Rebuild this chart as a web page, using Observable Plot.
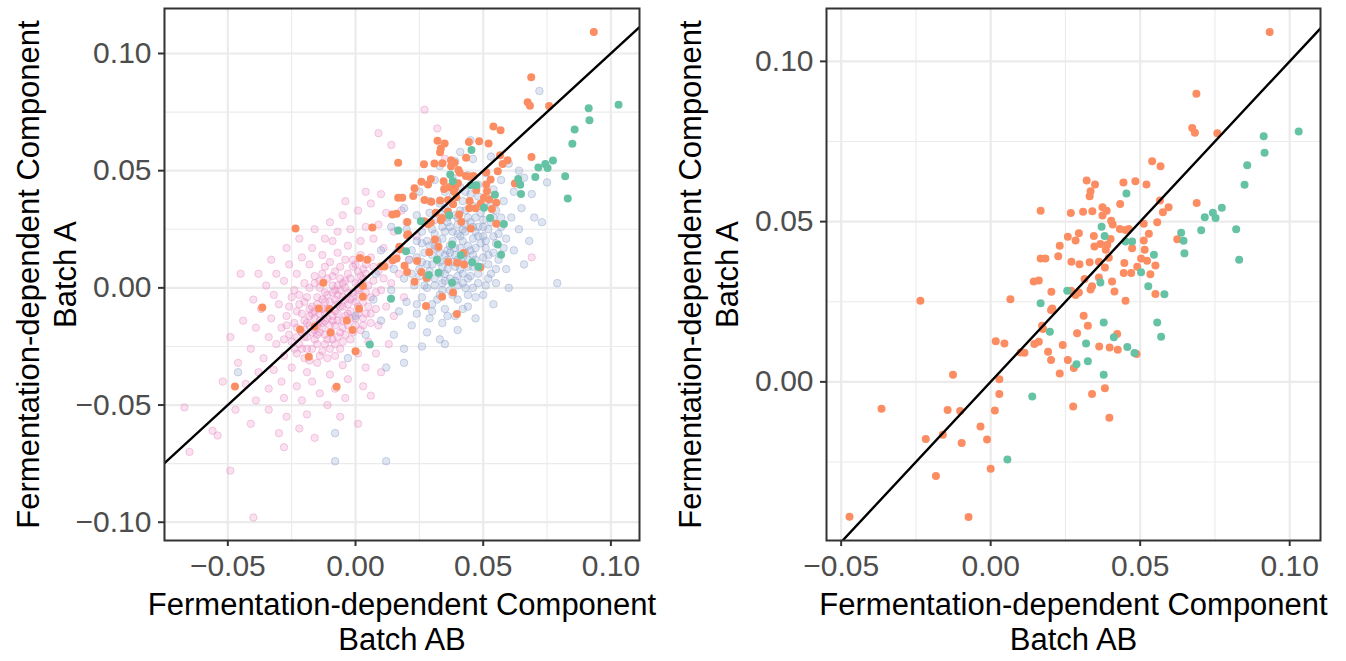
<!DOCTYPE html>
<html><head><meta charset="utf-8">
<script src="https://cdn.jsdelivr.net/npm/d3@7"></script>
<script src="https://cdn.jsdelivr.net/npm/@observablehq/plot@0.6"></script>
<style>
body{margin:0;background:#fff;}
#wrap{position:relative;width:1346px;height:661px;overflow:hidden;}
#left{position:absolute;left:0;top:0;}
#right{position:absolute;left:660px;top:0;}
svg g[aria-label$="axis tick"] path{stroke:#333333;stroke-width:2px;}
svg g[aria-label$="axis tick label"]{fill:#4D4D4D;}
</style></head><body><div id="wrap"><div id="left"></div><div id="right"></div></div>
<script>
// Highlighted samples (orange) — [Batch AB, Batch A]
const orangePts = [
[0.0540,0.0688],[0.0568,0.0673],[0.0321,0.0628],[0.0349,0.0616],[0.0444,0.0622],[0.0484,0.0626],[0.0521,0.0616],[0.0334,0.0595],[0.0331,0.0579],[0.0167,0.0534],[0.0268,0.0527],[0.0309,0.0531],[0.0340,0.0532],[0.0374,0.0545],[0.0388,0.0534],[0.0433,0.0555],[0.0566,0.0566],[0.0595,0.0545],[0.0576,0.0529],[0.0374,0.0519],[0.0403,0.0503],[0.0408,0.0491],[0.0557,0.0498],[0.0512,0.0493],[0.0432,0.0477],[0.0451,0.0474],[0.0462,0.0477],[0.0529,0.0462],[0.0295,0.0464],[0.0258,0.0453],[0.0284,0.0441],[0.0345,0.0455],[0.0401,0.0446],[0.0367,0.0430],[0.0390,0.0428],[0.0512,0.0441],[0.0624,0.0445],[0.0231,0.0425],[0.0347,0.0422],[0.0385,0.0412],[0.0473,0.0417],[0.0515,0.0412],
[0.0167,0.0385],[0.0183,0.0385],[0.0226,0.0392],[0.0270,0.0375],[0.0297,0.0367],[0.0331,0.0373],[0.0362,0.0375],[0.0395,0.0387],[0.0447,0.0371],[0.0503,0.0385],[0.0523,0.0378],[0.0551,0.0363],[0.0382,0.0357],[0.0445,0.0340],[0.0470,0.0340],[0.0490,0.0359],[0.0534,0.0336],[0.0144,0.0313],[0.0161,0.0316],[0.0314,0.0321],[0.0362,0.0326],[0.0406,0.0313],[0.0339,0.0298],[0.0334,0.0288],[0.0203,0.0281],[0.0269,0.0284],[0.0284,0.0271],[0.0295,0.0279],[0.0414,0.0282],[0.0551,0.0274],[0.0066,0.0258],[0.0451,0.0253],[0.0206,0.0229],[0.0202,0.0224],[0.0311,0.0206],[0.0325,0.0175],[0.0172,0.0175],[0.0175,0.0165],[0.0289,0.0152],[0.0423,0.0149],[0.0161,0.0125],[0.0146,0.0118],[0.0241,0.0115],[0.0363,0.0110],[0.0398,0.0107],[0.0425,0.0100],[0.0488,0.0087],[0.0192,0.0094],[0.0100,0.0092],[0.0113,0.0091],
[0.0202,0.0068],[0.0258,0.0068],[0.0278,0.0043],[0.0231,0.0026],[0.0029,0.0008],[0.0029,-0.0038],[0.0339,-0.0038],[0.0382,-0.0020],[0.0276,-0.0077],[0.0014,-0.0089],[0.0397,-0.0112],[-0.0034,-0.0139],[-0.0012,-0.0180],
[-0.0235,0.0253],[-0.0365,-0.0084],[-0.0126,0.0022],[-0.0144,-0.0088],[-0.0102,-0.0091],[-0.0217,-0.0178],[-0.0160,-0.0165],[-0.0097,-0.0191],[0.0000,-0.0271],[-0.0183,-0.0294],[-0.0472,-0.0421],[-0.0074,-0.0422],[0.0017,0.0127],[0.0046,0.0120],
[0.0933,0.1092],[0.0688,0.0899],[0.0674,0.0792],[0.0683,0.0777],[0.0758,0.0776],[0.0689,0.0558]
];
// Highlighted samples (green)
const greenPts = [
[0.0454,0.0588],[0.0371,0.0484],[0.0381,0.0455],[0.0451,0.0438],[0.0473,0.0438],[0.0546,0.0397],
[0.0503,0.0342],[0.0367,0.0310],[0.0527,0.0298],[0.0256,0.0284],[0.0581,0.0273],[0.0167,0.0245],[0.0378,0.0185],[0.0557,0.0185],[0.0198,0.0156],[0.0412,0.0139],[0.0570,0.0141],[0.0319,0.0120],[0.0457,0.0109],[0.0481,0.0090],
[0.0287,0.0055],[0.0325,0.0064],[0.0378,0.0022],[0.0139,-0.0046],[0.0056,-0.0242],
[0.1030,0.0781],[0.0913,0.0766],[0.0916,0.0715],[0.0858,0.0676],[0.0849,0.0615],[0.0773,0.0543],[0.0743,0.0528],[0.0752,0.0511],[0.0716,0.0514],[0.0704,0.0473],[0.0821,0.0476],[0.0831,0.0381],[0.0637,0.0465],[0.0645,0.0440],[0.0648,0.0401]
];
// Background samples, pink group (left panel only)
const pinkCloud = [
[-0.020,-0.018],[-0.018,-0.012],[-0.015,-0.016],[-0.013,-0.009],[-0.011,-0.013],[-0.010,-0.006],[-0.008,-0.010],[-0.007,-0.003],[-0.005,-0.008],[-0.004,0.000],[-0.002,-0.005],[0.000,0.002],[0.002,-0.003],[0.003,0.004],[0.005,0.001],[-0.022,-0.024],[-0.019,-0.021],[-0.016,-0.022],[-0.014,-0.019],[-0.012,-0.020],[-0.017,-0.008],[-0.015,-0.004],[-0.012,-0.002],[-0.009,0.001],[-0.006,0.004],[-0.003,0.006],[-0.001,0.009],[0.001,0.007],[-0.010,-0.016],[-0.007,-0.014],[-0.004,-0.012],[-0.002,-0.010],[0.001,-0.008],[0.003,-0.006],[-0.024,-0.015],[-0.021,-0.011],[-0.026,-0.020],[-0.023,-0.028],[-0.020,-0.030],[-0.017,-0.026],[-0.013,-0.027],[-0.009,-0.022],[-0.006,-0.019],[-0.003,-0.016],[0.000,-0.013],[0.004,-0.011],[0.006,-0.004],[0.007,0.003],[0.004,0.010],[-0.008,0.007],[-0.011,0.004],[-0.014,0.000],[-0.019,-0.004],[-0.022,-0.007],[-0.027,-0.012],[-0.025,-0.004],[-0.029,-0.017],[-0.031,-0.024],[-0.028,-0.029],[-0.025,-0.034],[-0.019,-0.036],[-0.015,-0.032],[-0.011,-0.030],[-0.006,-0.026],[-0.002,-0.022],[0.002,-0.018],[0.008,-0.009],[0.010,-0.001],[0.009,0.007],[0.006,0.013],[0.002,0.014],[-0.004,0.012],[-0.007,0.015],[-0.012,0.009],[-0.016,0.005],[-0.020,0.002],[-0.024,-0.001],[-0.030,-0.007],[-0.033,-0.013],[-0.034,-0.021],
[-0.016,-0.013],[-0.013,-0.015],[-0.011,-0.009],[-0.009,-0.012],[-0.007,-0.007],[-0.005,-0.004],[-0.003,-0.007],[-0.001,-0.002],[0.001,0.000],[-0.006,-0.001],[-0.008,-0.005],[-0.012,-0.006],[-0.014,-0.011],[-0.018,-0.016],[-0.021,-0.019],[-0.017,-0.019],[-0.010,-0.019],[-0.008,-0.016],[-0.005,-0.014],[-0.003,-0.011],[0.000,-0.006],[0.002,0.002],[0.004,0.006],[-0.002,0.004],[-0.005,0.002],[-0.009,-0.002],[-0.013,-0.005],[-0.016,-0.010],[-0.020,-0.014],[-0.023,-0.017],[-0.025,-0.023],[-0.021,-0.026],[-0.015,-0.024],[-0.012,-0.024],[-0.008,-0.024],[-0.004,-0.020],[0.000,-0.016],[0.003,-0.013],[0.005,-0.008],[-0.001,0.012],[-0.010,0.011],[-0.014,0.003],[-0.018,0.000],[-0.022,-0.003],[-0.026,-0.008],[-0.028,-0.022],[-0.018,-0.031],[-0.008,-0.029],[0.006,-0.015],[0.011,0.004],
[-0.019,-0.015],[-0.017,-0.011],[-0.014,-0.014],[-0.012,-0.011],[-0.010,-0.009],[-0.009,-0.014],[-0.007,-0.011],[-0.006,-0.008],[-0.004,-0.005],[-0.003,-0.002],[-0.001,-0.004],[0.001,-0.001],[0.002,0.005],[-0.004,0.003],[-0.007,0.001],[-0.011,-0.003],[-0.015,-0.007],[-0.018,-0.009],[-0.020,-0.021],[-0.023,-0.021],[-0.016,-0.018],[-0.013,-0.017],[-0.011,-0.022],[-0.007,-0.021],[-0.005,-0.017],[-0.002,-0.013],[0.001,-0.011],[0.004,-0.002],[0.003,0.008],[0.000,0.010],[-0.006,0.009],[-0.009,0.005],[-0.013,0.006],[-0.016,0.002],[-0.020,-0.006],[-0.023,-0.010],[-0.027,-0.016],[-0.024,-0.026],[-0.019,-0.026],[-0.014,-0.029],[-0.010,-0.026],[-0.005,-0.023],[-0.001,-0.019],[0.003,-0.016],[0.006,-0.011],[0.008,-0.002],[0.007,0.009],[-0.008,-0.001],[-0.012,-0.014],[-0.015,-0.020],
[-0.036,-0.030],[-0.032,-0.035],[-0.029,-0.040],[-0.023,-0.042],[-0.017,-0.040],[-0.010,-0.037],[-0.005,-0.033],[0.001,-0.028],[0.005,-0.023],[0.009,-0.016],[0.012,-0.008],[0.014,0.002],[0.013,0.010],[0.011,0.017],[0.007,0.021],[0.002,0.020],[-0.003,0.018],[-0.009,0.020],[-0.013,0.014],[-0.018,0.010],[-0.023,0.006],[-0.028,0.003],[-0.032,-0.003],[-0.037,-0.009],[-0.039,-0.017],[-0.041,-0.026],[-0.038,-0.036],[-0.034,-0.043],[-0.028,-0.047],[-0.021,-0.048],[-0.014,-0.045],[-0.008,-0.043],[-0.003,-0.039],[0.004,-0.034],[0.008,-0.028],[0.015,-0.012],[0.017,0.006],[0.016,0.015],[0.015,0.024],[0.009,0.027],[0.004,0.026],[-0.002,0.025],[-0.007,0.024],[-0.012,0.021],[-0.017,0.017],[-0.021,0.013],[-0.026,0.010],[-0.031,0.006],[-0.035,0.001],[-0.040,-0.005],
[-0.044,-0.014],[-0.046,-0.032],[-0.043,-0.041],[-0.039,-0.048],[-0.034,-0.052],[-0.027,-0.055],[-0.019,-0.054],[-0.011,-0.050],[-0.004,-0.047],[0.003,-0.042],[0.010,-0.036],[0.013,-0.024],[0.019,-0.004],[0.021,0.012],[0.020,0.028],[0.018,0.033],[0.012,0.032],[0.006,0.036],[0.001,0.033],[-0.005,0.031],[-0.010,0.028],[-0.016,0.025],[-0.022,0.021],[-0.027,0.017],[-0.033,0.012],[-0.038,0.006],[-0.045,0.006],[-0.049,-0.021],[-0.052,-0.040],[-0.047,-0.052],[-0.041,-0.058],[-0.030,-0.062],[-0.022,-0.060],[-0.006,-0.055],[0.006,-0.046],[0.024,0.022],[0.010,0.040],[0.004,0.041],[-0.004,0.037],[0.014,0.061],[0.009,0.066],[0.027,0.076],[0.032,0.068],[-0.067,-0.051],[-0.065,-0.070],[-0.056,-0.061],[-0.054,-0.063],[-0.049,-0.078],[-0.040,-0.098],[-0.028,-0.068],[-0.016,-0.064],[0.001,-0.058],[0.069,0.013],[0.045,0.047],[0.035,0.055]
];
// Background samples, blue group (left panel only)
const blueCloud = [
[0.030,0.010],[0.033,0.015],[0.036,0.012],[0.038,0.020],[0.041,0.017],[0.043,0.024],[0.046,0.021],[0.035,0.006],[0.039,0.009],[0.042,0.013],[0.045,0.016],[0.048,0.026],[0.050,0.022],[0.032,0.020],[0.035,0.024],[0.040,0.027],[0.044,0.030],[0.028,0.004],[0.031,0.001],[0.034,0.002],[0.037,0.015],[0.040,0.005],[0.044,0.009],[0.047,0.012],[0.051,0.017],[0.053,0.028],[0.049,0.032],[0.046,0.035],[0.041,0.033],[0.036,0.030],[0.030,0.025],[0.027,0.015],[0.025,0.008],[0.023,0.001],[0.026,-0.004],[0.030,-0.007],[0.033,-0.003],[0.037,-0.001],[0.042,0.002],[0.048,0.006],[0.052,0.010],[0.055,0.019],[0.057,0.026],[0.055,0.033],[0.051,0.037],[0.045,0.040],[0.038,0.036],[0.033,0.032],[0.028,0.028],[0.024,0.020],[0.021,0.012],[0.019,0.004],[0.020,-0.006],[0.024,-0.011],[0.029,-0.013],[0.035,-0.009],[0.040,-0.005],[0.046,0.000],[0.052,0.004],[0.056,0.012],[0.059,0.021],[0.061,0.030],[0.058,0.037],[0.054,0.042],[0.048,0.044],[0.041,0.043],[0.035,0.041],[0.029,0.037],[0.024,0.031],[0.020,0.025],[0.017,0.017],[0.015,0.008],[0.014,-0.001],[0.017,-0.010],[0.022,-0.016],[0.028,-0.019],[0.034,-0.015],[0.039,-0.012],[0.044,-0.008],[0.050,-0.003],[0.055,0.002],[0.059,0.008],[0.062,0.016],[0.064,0.025],[0.065,0.034],[0.062,0.041],[0.057,0.046],[0.051,0.049],[0.044,0.048],[0.038,0.047],
[0.036,0.016],[0.039,0.014],[0.042,0.020],[0.044,0.018],[0.038,0.011],[0.034,0.009],[0.032,0.012],[0.040,0.023],[0.043,0.027],[0.047,0.024],[0.049,0.019],[0.046,0.014],[0.041,0.008],[0.037,0.004],[0.033,0.006],[0.029,0.007],[0.031,0.018],[0.034,0.021],[0.037,0.026],[0.039,0.031],[0.045,0.028],[0.050,0.029],[0.052,0.025],[0.054,0.022],[0.052,0.014],[0.049,0.009],[0.045,0.005],[0.043,0.000],[0.038,-0.003],[0.032,-0.005],[0.027,0.001],[0.026,0.011],[0.028,0.020],[0.031,0.029],[0.035,0.034],[0.042,0.037],[0.048,0.039],[0.053,0.035],[0.057,0.030],[0.058,0.017],[0.055,0.008],[0.051,0.001],[0.047,-0.004],[0.042,-0.009],[0.036,-0.012],[0.030,-0.010],[0.024,-0.007],[0.022,0.006],[0.022,0.016],[0.026,0.024],
[0.035,0.014],[0.037,0.018],[0.039,0.017],[0.041,0.022],[0.043,0.015],[0.040,0.012],[0.036,0.008],[0.033,0.011],[0.030,0.014],[0.032,0.017],[0.034,0.026],[0.038,0.024],[0.042,0.025],[0.046,0.026],[0.048,0.022],[0.047,0.017],[0.044,0.012],[0.042,0.006],[0.039,0.003],[0.035,0.003],[0.031,0.004],[0.028,0.010],[0.029,0.018],[0.031,0.023],[0.036,0.028],[0.040,0.030],[0.043,0.033],[0.047,0.030],[0.050,0.026],[0.051,0.020],[0.050,0.013],[0.046,0.009],[0.044,0.004],[0.040,0.001],[0.034,-0.001],[0.028,0.000],[0.025,0.005],[0.024,0.013],[0.026,0.019],[0.029,0.032],[0.033,0.036],[0.038,0.039],[0.043,0.041],[0.049,0.035],[0.054,0.030],[0.056,0.023],[0.054,0.015],[0.053,0.006],[0.048,0.002],[0.044,-0.003],
[0.031,0.046],[0.025,0.041],[0.019,0.034],[0.014,0.026],[0.010,0.016],[0.008,0.006],[0.007,-0.005],[0.010,-0.014],[0.015,-0.020],[0.019,-0.026],[0.026,-0.025],[0.033,-0.022],[0.040,-0.018],[0.047,-0.013],[0.054,-0.007],[0.060,0.000],[0.066,0.010],[0.068,0.020],[0.070,0.030],[0.069,0.040],[0.066,0.047],[0.060,0.053],[0.053,0.056],[0.046,0.055],[0.039,0.054],[0.033,0.052],[0.072,0.084],[0.079,0.002],[-0.008,-0.062],[-0.008,-0.074],[0.012,-0.074],[-0.046,-0.036],[0.012,-0.034],[0.019,-0.032],[0.035,-0.024],[0.004,-0.020],[0.000,-0.012],[-0.003,-0.030],[0.064,0.050],[0.075,0.045],[0.073,0.028],[0.045,0.063],[0.041,0.058]
];
// Axis ticks
const leftXTicks = [-0.05, 0, 0.05, 0.10];
const leftYTicks = [-0.10, -0.05, 0, 0.05, 0.10];
const leftXMinor = [-0.075, -0.025, 0.025, 0.075];
const leftYMinor = [-0.075, -0.025, 0.025, 0.075];
const rightXTicks = [-0.05, 0, 0.05, 0.10];
const rightYTicks = [0, 0.05, 0.10];
const rightXMinor = [-0.025, 0.025, 0.075];
const rightYMinor = [-0.025, 0.025, 0.075];
const leftXDomain = [-0.0748, 0.1112], leftYDomain = [-0.1078, 0.1192];
const rightXDomain = [-0.0549, 0.1103], rightYDomain = [-0.0495, 0.1165];
const xTitle = "Fermentation-dependent Component\nBatch AB";
const yTitle = "Fermentation-dependent Component\nBatch A";
const refLine = {slope: 1, intercept: 0}; // identity line y = x

const fmt = d3.format(".2f");
const FONT = '"Liberation Sans", Arial, Helvetica, sans-serif';

function panel({width, marginLeft, marginRight, xDomain, yDomain, xTicks, yTicks, xMinor, yMinor, clouds}) {
  const diag = xDomain.map(v => ({x: v, y: refLine.slope * v + refLine.intercept}));
  const marks = [
    Plot.ruleX(xMinor, {stroke: "#EBEBEB", strokeWidth: 1.1}),
    Plot.ruleY(yMinor, {stroke: "#EBEBEB", strokeWidth: 1.1}),
    Plot.ruleX(xTicks, {stroke: "#EBEBEB", strokeWidth: 2.2}),
    Plot.ruleY(yTicks, {stroke: "#EBEBEB", strokeWidth: 2.2}),
  ];
  if (clouds) {
    marks.push(Plot.dot(pinkCloud, {x: d => d[0], y: d => d[1], r: 3.7, fill: "#E78AC3", fillOpacity: 0.26, stroke: "#E78AC3", strokeOpacity: 0.42, strokeWidth: 1}));
    marks.push(Plot.dot(blueCloud, {x: d => d[0], y: d => d[1], r: 3.8, fill: "#8DA0CB", fillOpacity: 0.28, stroke: "#8DA0CB", strokeOpacity: 0.42, strokeWidth: 1}));
  }
  marks.push(
    Plot.dot(orangePts, {x: d => d[0], y: d => d[1], r: 4, fill: "#FC8D62"}),
    Plot.dot(greenPts, {x: d => d[0], y: d => d[1], r: 4, fill: "#66C2A5"}),
    Plot.line(diag, {x: "x", y: "y", stroke: "black", strokeWidth: 2.4, clip: true}),
    Plot.frame({stroke: "#333333", strokeWidth: 2}),
    Plot.axisX(xTicks, {tickFormat: fmt, fontSize: 30, tickSize: 6, tickPadding: 8, color: "#4D4D4D", label: null}),
    Plot.axisY(yTicks, {tickFormat: fmt, fontSize: 30, tickSize: 6, tickPadding: 7, color: "#4D4D4D", label: null}),
    Plot.text([xTitle], {frameAnchor: "bottom", dy: 49, lineAnchor: "top", textAnchor: "middle", fontSize: 31, lineHeight: 1.15, fill: "black"}),
    Plot.text([yTitle], {frameAnchor: "left", dx: -152, rotate: -90, lineAnchor: "top", textAnchor: "middle", fontSize: 31, lineHeight: 1.2, fill: "black"})
  );
  return Plot.plot({
    width, height: 661, marginLeft, marginRight, marginTop: 8, marginBottom: 121,
    x: {domain: xDomain}, y: {domain: yDomain},
    style: {fontFamily: FONT, background: "white", overflow: "visible"},
    marks
  });
}

document.getElementById("left").append(panel({
  width: 660, marginLeft: 164, marginRight: 21,
  xDomain: leftXDomain, yDomain: leftYDomain,
  xTicks: leftXTicks, yTicks: leftYTicks, xMinor: leftXMinor, yMinor: leftYMinor, clouds: true
}));
document.getElementById("right").append(panel({
  width: 686, marginLeft: 166, marginRight: 26,
  xDomain: rightXDomain, yDomain: rightYDomain,
  xTicks: rightXTicks, yTicks: rightYTicks, xMinor: rightXMinor, yMinor: rightYMinor, clouds: false
}));
</script></body></html>
